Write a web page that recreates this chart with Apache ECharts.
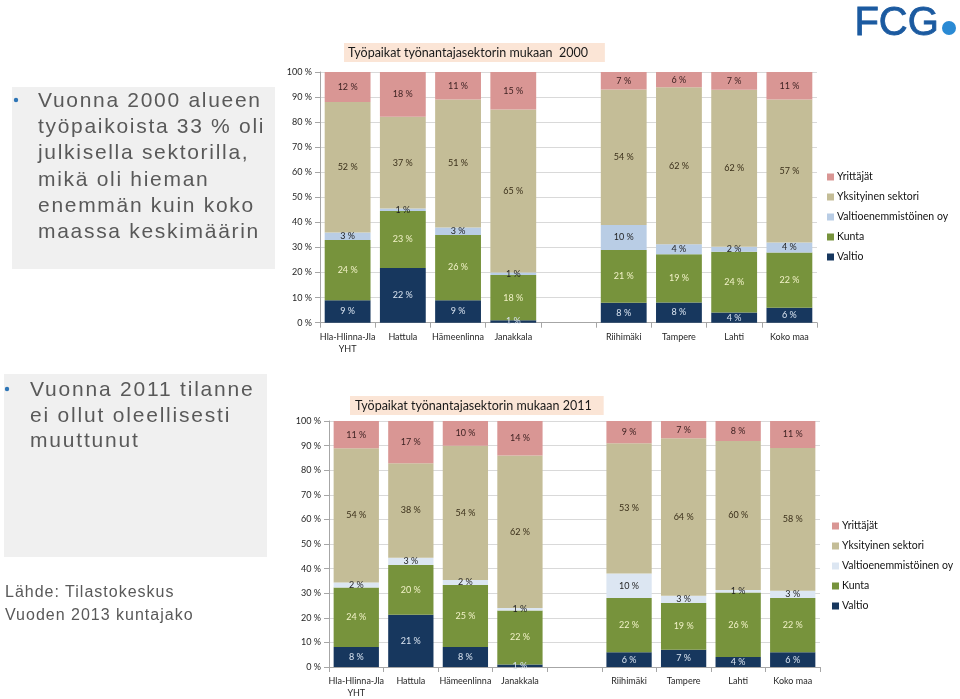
<!DOCTYPE html>
<html><head><meta charset="utf-8">
<script src="https://cdn.jsdelivr.net/npm/echarts@6/dist/echarts.min.js"></script>
<style>
html,body{margin:0;padding:0;background:#fff}
#wrap{position:relative;width:960px;height:699px}
#c{width:960px;height:699px}
.note{position:absolute;font-family:"Liberation Sans",Arial,sans-serif;color:#595959;white-space:pre;margin:0}
</style>
</head><body><div id="wrap"><div id="c"></div>
<div class="note" id="n1" style="left:38px;top:87px;font-size:21px;line-height:26.2px;letter-spacing:1.7px"></div>
<div class="note" id="n2" style="left:30px;top:376px;font-size:21px;line-height:25.5px;letter-spacing:1.8px"></div>
<div class="note" id="n3" style="left:5px;top:580px;font-size:16px;line-height:23px;letter-spacing:1px"></div>
</div>
<script>
const categories = ['Hla-Hlinna-Jla\nYHT','Hattula','Hämeenlinna','Janakkala','','Riihimäki','Tampere','Lahti','Koko maa'];
const seriesNames = ['Valtio','Kunta','Valtioenemmistöinen oy','Yksityinen sektori','Yrittäjät'];
const yTicks = [0,10,20,30,40,50,60,70,80,90,100];

// 2000
const valtio2000   = [9,22,9,1,null,8,8,4,6];
const kunta2000    = [24,23,26,18,null,21,19,24,22];
const valtioOy2000 = [3,1,3,1,null,10,4,2,4];
const yksit2000    = [52,37,51,65,null,54,62,62,57];
const yritt2000    = [12,18,11,15,null,7,6,7,11];

// 2011
const valtio2011   = [8,21,8,1,null,6,7,4,6];
const kunta2011    = [24,20,25,22,null,22,19,26,22];
const valtioOy2011 = [2,3,2,1,null,10,3,1,3];
const yksit2011    = [54,38,54,62,null,53,64,60,58];
const yritt2011    = [11,17,10,14,null,9,7,8,11];

const title2000 = 'Työpaikat työnantajasektorin mukaan  2000';
const title2011 = 'Työpaikat työnantajasektorin mukaan 2011';
const note1 = 'Vuonna 2000 alueen\ntyöpaikoista 33 % oli\njulkisella sektorilla,\nmikä oli hieman\nenemmän kuin koko\nmaassa keskimäärin';
const note2 = 'Vuonna 2011 tilanne\nei ollut oleellisesti\nmuuttunut';
const note3 = 'Lähde: Tilastokeskus\nVuoden 2013 kuntajako';

document.getElementById('n1').textContent = note1;
document.getElementById('n2').textContent = note2;
document.getElementById('n3').textContent = note3;

const colors2000 = ['#17375e','#77933c','#b9cde5','#c4bd97','#d99694'];
const colors2011 = ['#17375e','#77933c','#dce6f2','#c4bd97','#d99694'];
const labelColors = ['#dbe5f1','#f2f2c8','#1f1f1f','#3a2f1a','#3a1f1f'];

const chartFont = 'Lato';

function buildSeries(arrs, colors, idx) {
  const totals = categories.map((c,i)=>arrs.reduce((s,a)=>s+(a[i]||0),0));
  return arrs.map((arr,k)=>({
    type:'bar', name: seriesNames[k], stack:'s'+idx, xAxisIndex:idx, yAxisIndex:idx,
    barCategoryGap:'17%',
    itemStyle:{color:colors[k]},
    data: arr.map((v,i)=> v==null ? '-' : {value: v/totals[i]*100, raw:v}),
    label:{show:true, position:'inside', fontFamily:chartFont, fontSize:9, color:labelColors[k],
      formatter:p=>p.data && p.data.raw!=null ? p.data.raw+' %' : ''},
    emphasis:{disabled:true}
  }));
}

function xAxis(gi){
  return {type:'category', gridIndex:gi, data:categories,
    axisLine:{lineStyle:{color:'#a6a6a6'}}, axisTick:{show:true, lineStyle:{color:'#a6a6a6'}},
    axisLabel:{fontFamily:chartFont, fontSize:9, color:'#262626', interval:0, margin:8, lineHeight:12}};
}
function yAxis(gi){
  return {type:'value', gridIndex:gi, min:0, max:100, interval:10,
    axisLine:{show:true, lineStyle:{color:'#a6a6a6'}}, axisTick:{show:true, lineStyle:{color:'#a6a6a6'}},
    splitLine:{lineStyle:{color:'#d9d9d9'}},
    axisLabel:{fontFamily:chartFont, fontSize:9, color:'#262626', margin:8, formatter:'{value} %'}};
}
function legend(top,left,colors){
  const order=[4,3,2,1,0];
  return {orient:'vertical', left:left, top:top, itemWidth:7, itemHeight:7, itemGap:8, icon:'rect',
    selectedMode:false,
    textStyle:{fontFamily:chartFont, fontSize:10.5, color:'#111', lineHeight:12, padding:[0,0,0,-2]},
    data: order.map(k=>({name:seriesNames[k], itemStyle:{color:colors[k]}}))};
}

const chart = echarts.init(document.getElementById('c'), null, {renderer:'canvas'});
chart.setOption({
  animation:false,
  backgroundColor:'#fff',
  title:[
    {text:title2000, left:344, top:43, backgroundColor:'#fbe5d6', padding:[3,17,3,4],
     textStyle:{fontFamily:chartFont, fontSize:12.5, fontWeight:'normal', color:'#1a1a1a'}},
    {text:title2011, left:350, top:396, backgroundColor:'#fbe5d6', padding:[3,12,3,5],
     textStyle:{fontFamily:chartFont, fontSize:12.5, fontWeight:'normal', color:'#1a1a1a'}}
  ],
  grid:[
    {left:320, top:72, width:497, height:250.7},
    {left:329, top:421, width:491, height:248.3}
  ],
  xAxis:[xAxis(0), xAxis(1)],
  yAxis:[yAxis(0), yAxis(1)],
  legend:[legend(166,822,colors2000), legend(515,827,colors2011)],
  series:[
    ...buildSeries([valtio2000,kunta2000,valtioOy2000,yksit2000,yritt2000], colors2000, 0),
    ...buildSeries([valtio2011,kunta2011,valtioOy2011,yksit2011,yritt2011], colors2011, 1)
  ],
  graphic:[
    {type:'rect', shape:{x:12,y:87,width:263,height:182}, style:{fill:'#f0f0f0'}, silent:true},
    {type:'circle', shape:{cx:16,cy:100,r:2.2}, style:{fill:'#2e75b6'}},
    {type:'rect', shape:{x:4,y:374,width:263,height:183}, style:{fill:'#f0f0f0'}, silent:true},
    {type:'circle', shape:{cx:7,cy:389,r:2.2}, style:{fill:'#2e75b6'}},
    {type:'text', left:854, top:4, style:{text:'FCG', font:'40px "Liberation Sans"', fill:'#1b5aa0', stroke:'#1b5aa0', lineWidth:0.8}},
    {type:'circle', shape:{cx:949,cy:28,r:7}, style:{fill:'#2a8ad4'}}
  ]
});
</script></body></html>
